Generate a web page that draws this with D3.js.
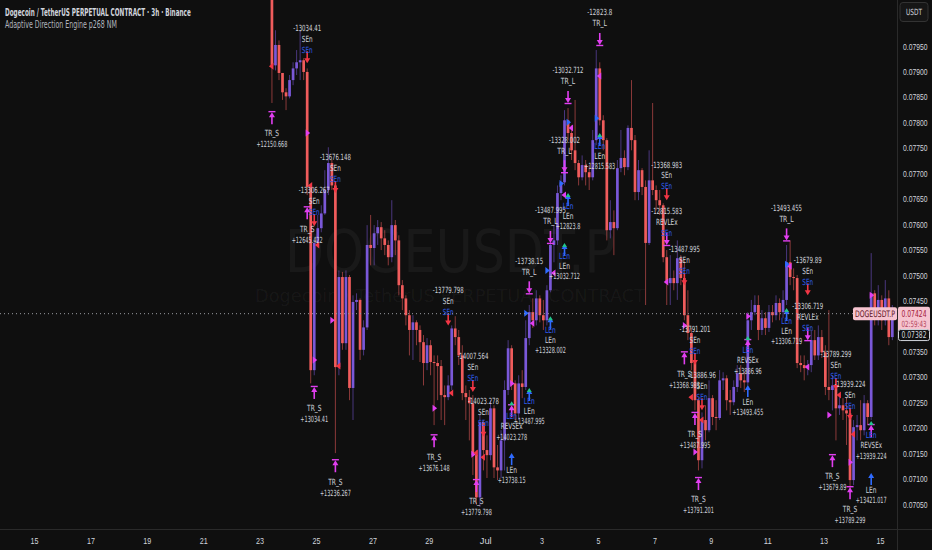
<!DOCTYPE html>
<html>
<head>
<meta charset="utf-8">
<title>DOGEUSDT.P 3h</title>
<script src="https://d3js.org/d3.v7.min.js"></script>
<style>
  html, body { margin: 0; padding: 0; background: #0f0f0f; }
  svg { display: block; font-family: "Liberation Sans Narrow", "DejaVu Sans Condensed", Roboto, sans-serif; }
  .lbl { font-size: 8.5px; fill: #d1d4dc; text-anchor: middle; dominant-baseline: middle; }
  .lbl.blue { fill: #2f5ff0; }
  .axis text { fill: #d1d4dc; font-size: 9.5px; }
</style>
</head>
<body>
<script>
// prices are written in units of 0.00001 USDT
var PRICE_UNIT = 1e-5;
var firstBar = Date.UTC(2023, 5, 23, 9);   // first visible 3h bar
var barMs = 3 * 3600 * 1000;
var firstOpen = 8069;

var closes = [
  7912,7952,7897,7859,7851,7883,7906,7918,7922,7899,
  7673,7313,7563,7592,7621,7667,7720,7676,7319,7496,
  7366,7496,7278,7447,7451,7353,7397,7559,7553,7582,
  7594,7572,7559,7535,7598,7568,7480,7454,7421,7392,
  7407,7392,7368,7327,7362,7329,7327,7321,7264,7260,
  7283,7395,7378,7342,7268,7260,7248,7146,7063,7211,
  7156,7146,7238,7122,7116,7175,7274,7356,7287,7228,
  7287,7280,7376,7427,7411,7454,7421,7411,7470,7559,
  7568,7661,7682,7804,7779,7745,7720,7692,7716,7702,
  7692,7765,7906,7804,7765,7588,7604,7592,7710,7730,
  7712,7789,7765,7663,7706,7673,7563,7686,7667,7647,
  7637,7535,7484,7494,7484,7533,7494,7421,7386,7327,
  7254,7136,7215,7195,7258,7221,7219,7293,7297,7254,
  7250,7280,7307,7293,7289,7411,7427,7441,7392,7415,
  7396,7427,7421,7445,7427,7451,7525,7496,7494,7327,
  7323,7317,7323,7372,7342,7378,7348,7280,7274,7283,
  7238,7244,7234,7228,7097,7201,7205,7195,7248,7221,
  7464,7415,7451,7411,7454,7378,7424
];
var highs = [
  8079,7981,7961,7893,7867,7893,7918,7942,7981,7926,
  7906,7673,7568,7618,7637,7706,7751,7726,7680,7509,
  7506,7509,7500,7460,7464,7454,7411,7598,7618,7598,
  7608,7604,7588,7568,7647,7608,7578,7490,7460,7431,
  7421,7411,7401,7382,7376,7372,7342,7342,7333,7283,
  7303,7401,7419,7392,7362,7283,7274,7264,7156,7225,
  7215,7185,7254,7244,7166,7195,7293,7372,7362,7293,
  7303,7313,7411,7441,7454,7470,7460,7451,7480,7565,
  7598,7676,7696,7824,7828,7794,7844,7726,7735,7726,
  7716,7785,7942,7918,7814,7769,7647,7627,7726,7785,
  7745,7794,7883,7775,7726,7710,7686,7745,7838,7676,
  7667,7641,7549,7539,7509,7568,7539,7529,7470,7396,
  7333,7258,7230,7244,7293,7264,7254,7313,7309,7303,
  7274,7293,7323,7323,7309,7427,7451,7460,7460,7431,
  7427,7441,7441,7460,7454,7470,7559,7568,7513,7500,
  7342,7342,7333,7392,7392,7401,7392,7362,7431,7303,
  7293,7264,7258,7260,7244,7215,7225,7254,7264,7254,
  7543,7470,7480,7460,7490,7470,7441
];
var lows = [
  7838,7902,7883,7844,7824,7847,7873,7893,7883,7883,
  7657,7287,7303,7559,7584,7618,7657,7667,7150,7303,
  7353,7353,7254,7215,7431,7333,7342,7392,7519,7519,
  7559,7549,7539,7519,7525,7539,7460,7431,7401,7342,
  7333,7362,7329,7283,7313,7303,7205,7254,7215,7205,
  7254,7274,7362,7323,7254,7215,7175,7107,7048,7044,
  7116,7101,7136,7101,7097,7101,7116,7264,7274,7215,
  7215,7258,7274,7362,7396,7401,7407,7392,7401,7466,
  7525,7559,7647,7676,7765,7726,7706,7676,7686,7676,
  7667,7686,7755,7794,7745,7568,7572,7539,7588,7702,
  7696,7706,7745,7647,7647,7657,7441,7559,7657,7627,
  7618,7525,7441,7441,7470,7451,7480,7411,7372,7313,
  7234,7116,7120,7175,7191,7205,7195,7215,7274,7234,
  7225,7244,7270,7278,7270,7283,7392,7421,7372,7382,
  7382,7388,7407,7411,7411,7415,7441,7480,7470,7317,
  7309,7293,7303,7309,7333,7333,7337,7264,7254,7234,
  7175,7225,7215,7166,7077,7087,7175,7175,7185,7205,
  7215,7401,7401,7392,7401,7362,7372
];

var priceTicks = [0.0705,0.0710,0.0715,0.0720,0.0725,0.0730,0.0735,0.0740,
                  0.0745,0.0750,0.0755,0.0760,0.0765,0.0770,0.0775,0.0780,
                  0.0785,0.0790,0.0795];
var dateTicks = ["2023-06-15","2023-06-17","2023-06-19","2023-06-21","2023-06-23",
                 "2023-06-25","2023-06-27","2023-06-29","2023-07-01","2023-07-03",
                 "2023-07-05","2023-07-07","2023-07-09","2023-07-11","2023-07-13",
                 "2023-07-15"];

// [bar index, kind, quantity text, price where the marker sits]
var signals = [
  [0,"TR_S","+12150.668",7820],
  [10,"SEn","-13034.41",7916],
  [10,"TR_S","+12645.422",7633],
  [12,"SEn","-13306.267",7596],
  [12,"TR_S","+13034.41",7280],
  [18,"SEn","-13676.148",7661],
  [18,"TR_S","+13236.267",7136],
  [46,"TR_S","+13676.148",7185],
  [50,"SEn","-13779.798",7401],
  [57,"SEn","-14007.564",7270],
  [58,"TR_S","+13779.798",7097],
  [60,"SEn","-14023.278",7182],
  [68,"REVSEx","+14023.278",7252],
  [68,"LEn","+13738.15",7150],
  [73,"TR_L","-13738.15",7464],
  [73,"LEnS","+13487.995",7278],
  [79,"TR_L","-13487.995",7563],
  [79,"LEnS","+13328.002",7419],
  [83,"TR_L","-13328.002",7702],
  [83,"LEnS","+13032.712",7563],
  [84,"TR_L","-13032.712",7838],
  [84,"LEnS","+12823.8",7661],
  [93,"TR_L","-12823.8",7952],
  [93,"LEnS","+12815.583",7779],
  [112,"SEn","-13368.983",7647],
  [112,"REVLEx","-12815.583",7559],
  [117,"SEn","-13487.995",7480],
  [117,"TR_S","+13368.983",7348],
  [120,"SEn","-13791.201",7323],
  [120,"TR_S","+13487.995",7229],
  [121,"TR_S","+13791.201",7101],
  [122,"SEn","-13886.96",7234],
  [135,"REVSEx","+13886.96",7380],
  [135,"LEn","+13493.455",7284],
  [146,"TR_L","-13493.455",7568],
  [146,"LEnS","+13306.719",7435],
  [152,"SEn","-13679.89",7460],
  [152,"REVLEx","-13306.719",7372],
  [159,"TR_S","+13679.89",7146],
  [160,"SEn","-13789.299",7274],
  [164,"SEn","-13939.224",7215],
  [164,"TR_S","+13789.299",7083],
  [170,"REVSEx","+13939.224",7213],
  [170,"LEn","+13421.017",7111]
];

// small flag triangles: [bar index, pointing, colour key, price]
var flags = [
  [0,"L","red",7910],[10,"R","mag",7779],[11,"L","red",7676],[13,"L","red",7559],
  [12,"R","mag",7333],[17,"R","mag",7411],[19,"L","red",7321],[46,"R","mag",7238],
  [51,"L","red",7268],[57,"R","mag",7148],[58,"L","red",7150],[60,"L","red",7142],
  [68,"R","mag",7287],[72,"R","blue",7425],[74,"L","mag",7405],[78,"R","blue",7509],
  [80,"L","mag",7504],[82,"R","blue",7680],[83,"L","mag",7657],[84,"R","blue",7800],
  [85,"L","mag",7789],[92,"R","blue",7808],[93,"L","mag",7891],[112,"L","mag",7486],
  [117,"R","mag",7401],[119,"L","red",7260],[122,"L","red",7215],[120,"R","mag",7152],
  [135,"R","mag",7419],[146,"R","blue",7521],[147,"L","mag",7517],[152,"L","mag",7319],
  [158,"R","mag",7225],[161,"L","red",7264],[165,"L","red",7187],[164,"R","mag",7132],
  [170,"R","mag",7460]
];

var refPrice = 7382;
var countdown = "02:59:43";

var width = 932, height = 550, plotRight = 897, plotBottom = 529;
var upColor = "#7a58d8", downColor = "#f05c5c";
var colorKey = { red: "#f23645", mag: "#e13ef0", blue: "#2f6bff" };

var x = d3.scaleUtc()
    .domain([new Date(Date.UTC(2023, 5, 15)), new Date(Date.UTC(2023, 6, 15))])
    .range([34, 880]);
var y = d3.scaleLinear().domain([0.0705, 0.0795]).range([504, 46]);

var bars = closes.map(function(c, i) {
  return {
    i: i,
    o: (i ? closes[i - 1] : firstOpen) * PRICE_UNIT,
    h: highs[i] * PRICE_UNIT,
    l: lows[i] * PRICE_UNIT,
    c: c * PRICE_UNIT
  };
});
function cx(i) { return x(new Date(firstBar + i * barMs + barMs / 2)); }

// squeeze a text horizontally around its anchor so it gets the narrow look of the original
function squeeze(node, w) {
  var nat = node.getComputedTextLength();
  if (!(nat > 0)) return;
  var t = d3.select(node), x0 = +t.attr("x") || 0, k = w / nat;
  t.attr("transform", "translate(" + x0 + ",0) scale(" + k + ",1) translate(" + (-x0) + ",0)");
}

var svg = d3.select("body").append("svg")
    .attr("width", width).attr("height", height)
    .style("background", "#0f0f0f");

svg.append("clipPath").attr("id", "plot")
  .append("rect").attr("x", 0).attr("y", 0).attr("width", plotRight).attr("height", plotBottom);

// watermark
svg.append("text").attr("x", 450).attr("y", 272).attr("text-anchor", "middle")
  .attr("font-size", 58).attr("textLength", 330).attr("lengthAdjust", "spacingAndGlyphs")
  .attr("fill", "#ffffff").attr("fill-opacity", 0.045).text("DOGEUSDT.P");
svg.append("text").attr("x", 450).attr("y", 302).attr("text-anchor", "middle")
  .attr("font-size", 17).attr("textLength", 390).attr("lengthAdjust", "spacingAndGlyphs")
  .attr("fill", "#ffffff").attr("fill-opacity", 0.045).text("Dogecoin / TetherUS PERPETUAL CONTRACT");

var plot = svg.append("g").attr("clip-path", "url(#plot)");

// candles
plot.append("g").selectAll("line").data(bars).enter().append("line")
  .attr("x1", function(d) { return cx(d.i); }).attr("x2", function(d) { return cx(d.i); })
  .attr("y1", function(d) { return y(d.h); }).attr("y2", function(d) { return y(d.l); })
  .attr("stroke", function(d) { return d.c >= d.o ? upColor : downColor; })
  .attr("stroke-opacity", 0.55).attr("stroke-width", 1);

plot.append("g").selectAll("rect").data(bars).enter().append("rect")
  .attr("x", function(d) { return cx(d.i) - 1.35; })
  .attr("width", 2.7)
  .attr("y", function(d) { return y(Math.max(d.o, d.c)); })
  .attr("height", function(d) { return Math.max(1, Math.abs(y(d.o) - y(d.c))); })
  .attr("fill", function(d) { return d.c >= d.o ? upColor : downColor; });

// flag triangles
plot.append("g").selectAll("path").data(flags).enter().append("path")
  .attr("d", function(f) {
    var px = cx(f[0]), py = y(f[3] * PRICE_UNIT);
    return f[1] === "L"
      ? "M" + (px - 3) + "," + py + "L" + (px + 1.5) + "," + (py - 3.5) + "L" + (px + 1.5) + "," + (py + 3.5) + "Z"
      : "M" + (px + 3) + "," + py + "L" + (px - 1.5) + "," + (py - 3.5) + "L" + (px - 1.5) + "," + (py + 3.5) + "Z";
  })
  .attr("fill", function(f) { return colorKey[f[2]]; });

// signal markers
var sg = plot.append("g");
function label(px, py, txt, cls) {
  var isNum = /^[+-]?[\d.]+$/.test(txt);
  var t = sg.append("text").attr("class", "lbl" + (cls ? " " + cls : "")).attr("x", px).attr("y", py).text(txt);
  squeeze(t.node(), txt.length * (isNum ? 3.1 : 3.6));
}
function arrowDown(px, tip, color, withBar) {
  sg.append("line").attr("x1", px).attr("x2", px).attr("y1", tip - 12).attr("y2", tip - 4)
    .attr("stroke", color).attr("stroke-width", 1.6);
  sg.append("path").attr("d", "M" + (px - 3) + "," + (tip - 5) + "L" + (px + 3) + "," + (tip - 5) + "L" + px + "," + tip + "Z")
    .attr("fill", color);
  if (withBar) sg.append("line").attr("x1", px - 3.5).attr("x2", px + 3.5).attr("y1", tip + 0.5).attr("y2", tip + 0.5)
    .attr("stroke", color).attr("stroke-width", 1.4);
}
function arrowUp(px, top, color, withBar) {
  sg.append("line").attr("x1", px).attr("x2", px).attr("y1", top + 4).attr("y2", top + 12)
    .attr("stroke", color).attr("stroke-width", 1.6);
  sg.append("path").attr("d", "M" + (px - 3) + "," + (top + 5) + "L" + (px + 3) + "," + (top + 5) + "L" + px + "," + top + "Z")
    .attr("fill", color);
  if (withBar) sg.append("line").attr("x1", px - 3.5).attr("x2", px + 3.5).attr("y1", top - 0.5).attr("y2", top - 0.5)
    .attr("stroke", color).attr("stroke-width", 1.4);
}
function greenTip(px, top) {
  sg.append("path").attr("d", "M" + (px - 2.5) + "," + (top + 4) + "L" + (px + 2.5) + "," + (top + 4) + "L" + px + "," + top + "Z")
    .attr("fill", "#22c58b");
}

signals.forEach(function(s) {
  var px = cx(s[0]), t = y(s[3] * PRICE_UNIT), kind = s[1], qty = s[2];
  if (kind === "SEn") {
    arrowDown(px, t, colorKey.red, false);
    label(px, t - 13, "SEn", "blue");
    label(px, t - 24, "SEn");
    label(px, t - 35, qty);
  } else if (kind === "TR_L") {
    arrowDown(px, t, colorKey.mag, true);
    label(px, t - 21, "TR_L");
    label(px, t - 32, qty);
  } else if (kind === "REVLEx") {
    arrowDown(px, t, colorKey.mag, true);
    label(px, t - 11, "SEn", "blue");
    label(px, t - 22, "REVLEx");
    label(px, t - 33, qty);
  } else if (kind === "TR_S") {
    arrowUp(px, t, colorKey.mag, true);
    label(px, t + 22, "TR_S");
    label(px, t + 33, qty);
  } else if (kind === "LEn") {
    arrowUp(px, t, colorKey.blue, false);
    label(px, t + 18, "LEn");
    label(px, t + 28, qty);
  } else if (kind === "LEnS") {
    arrowUp(px, t + 1, colorKey.blue, false);
    greenTip(px, t);
    label(px, t + 14, "LEn", "blue");
    label(px, t + 24, "LEn");
    label(px, t + 34, qty);
  } else if (kind === "REVSEx") {
    arrowUp(px, t + 4, colorKey.mag, true);
    greenTip(px, t);
    label(px, t + 15, "LEn", "blue");
    label(px, t + 25, "REVSEx");
    label(px, t + 36, qty);
  }
});

// last price dotted line
var lastClose = closes[closes.length - 1] * PRICE_UNIT;
svg.append("line").attr("x1", 0).attr("x2", plotRight).attr("y1", y(lastClose)).attr("y2", y(lastClose))
  .attr("stroke", "#9a9ca3").attr("stroke-width", 1).attr("stroke-dasharray", "1,3");

// axes frame
svg.append("line").attr("x1", plotRight + 0.5).attr("x2", plotRight + 0.5).attr("y1", 0).attr("y2", height)
  .attr("stroke", "#2a2a2a");
svg.append("line").attr("x1", 0).attr("x2", width).attr("y1", plotBottom + 0.5).attr("y2", plotBottom + 0.5)
  .attr("stroke", "#2a2a2a");

var yAxis = svg.append("g").attr("class", "axis").attr("transform", "translate(" + plotRight + ",0)")
  .call(d3.axisRight(y).tickValues(priceTicks).tickFormat(d3.format(".5f")).tickSize(0).tickPadding(6));
yAxis.select(".domain").remove();
yAxis.selectAll("text").attr("font-family", null).each(function() { squeeze(this, 24.5); });

var xAxis = svg.append("g").attr("class", "axis").attr("transform", "translate(0," + plotBottom + ")")
  .call(d3.axisBottom(x)
    .tickValues(dateTicks.map(function(s) { return new Date(s + "T00:00:00Z"); }))
    .tickFormat(function(d) { return d.getUTCDate() === 1 ? "Jul" : d.getUTCDate(); })
    .tickSize(0).tickPadding(8));
xAxis.select(".domain").remove();
xAxis.selectAll("text").attr("font-family", null).each(function() { squeeze(this, this.textContent.length * 4); });

// USDT button
svg.append("rect").attr("x", 900).attr("y", 2.5).attr("width", 28).attr("height", 19).attr("rx", 3)
  .attr("fill", "#161616").attr("stroke", "#333");
var usdt = svg.append("text").attr("x", 914).attr("y", 12.5).attr("text-anchor", "middle").attr("dominant-baseline", "middle")
  .attr("font-size", 8.5).attr("fill", "#d1d4dc").text("USDT");
squeeze(usdt.node(), 16);

// price tags
var ly = y(lastClose);
svg.append("rect").attr("x", 853).attr("y", ly - 6.5).attr("width", 44).attr("height", 13).attr("rx", 2)
  .attr("fill", "#f6c4d0");
var tag1 = svg.append("text").attr("x", 875).attr("y", ly + 0.5).attr("text-anchor", "middle").attr("dominant-baseline", "middle")
  .attr("font-size", 9).attr("fill", "#5a1020").text("DOGEUSDT.P");
squeeze(tag1.node(), 40);
svg.append("rect").attr("x", 898).attr("y", ly - 7).attr("width", 32).attr("height", 25).attr("rx", 2)
  .attr("fill", "#f6c4d0");
var tag2 = svg.append("text").attr("x", 914).attr("y", ly + 0.5).attr("text-anchor", "middle").attr("dominant-baseline", "middle")
  .attr("font-size", 9.5).attr("fill", "#a3203a").text(d3.format(".5f")(lastClose));
squeeze(tag2.node(), 25);
var tag3 = svg.append("text").attr("x", 914).attr("y", ly + 11).attr("text-anchor", "middle").attr("dominant-baseline", "middle")
  .attr("font-size", 8.5).attr("fill", "#b3475c").text(countdown);
squeeze(tag3.node(), 25);
var ry = y(refPrice * PRICE_UNIT);
svg.append("rect").attr("x", 898.5).attr("y", ry - 5.5).attr("width", 31).attr("height", 11).attr("rx", 2)
  .attr("fill", "#0f0f0f").attr("stroke", "#d1d4dc");
var tag4 = svg.append("text").attr("x", 914).attr("y", ry + 0.5).attr("text-anchor", "middle").attr("dominant-baseline", "middle")
  .attr("font-size", 9.5).attr("fill", "#d1d4dc").text(d3.format(".5f")(refPrice * PRICE_UNIT));
squeeze(tag4.node(), 25);

// header
var h1 = svg.append("text").attr("x", 5).attr("y", 16).attr("font-size", 10.5).attr("font-weight", "bold")
  .attr("fill", "#d1d4dc").text("Dogecoin / TetherUS PERPETUAL CONTRACT \u00b7 3h \u00b7 Binance");
squeeze(h1.node(), 186);
var h2 = svg.append("text").attr("x", 5).attr("y", 28.5).attr("font-size", 10)
  .attr("fill", "#b2b5be").text("Adaptive Direction Engine p268 NM");
squeeze(h2.node(), 112);
</script>
</body>
</html>
